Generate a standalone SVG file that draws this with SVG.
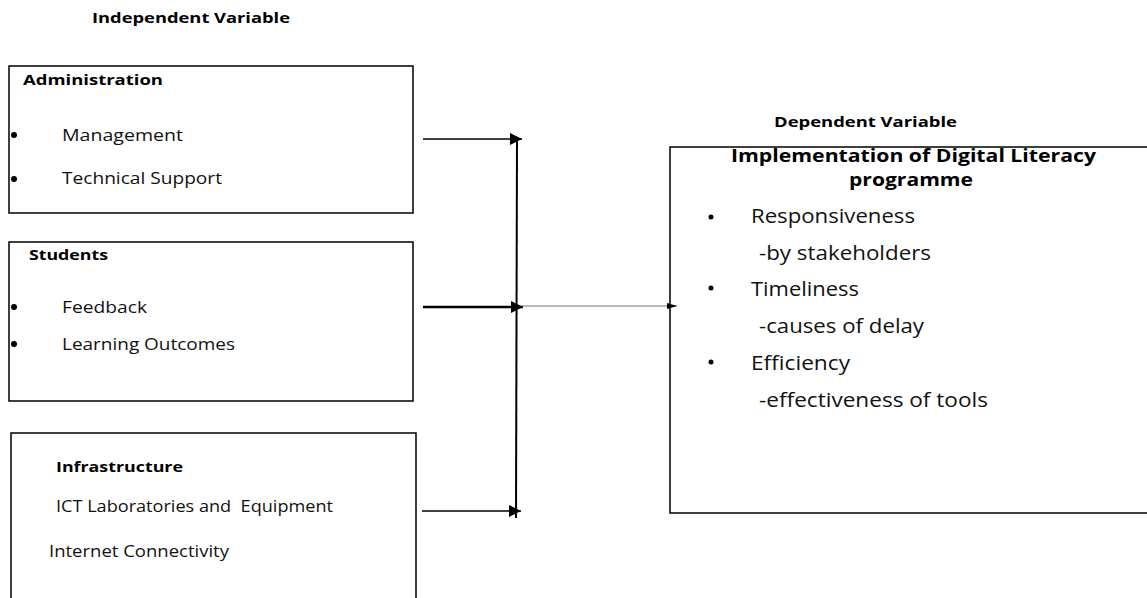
<svg xmlns="http://www.w3.org/2000/svg" width="1147" height="598" viewBox="0 0 1147 598">
<style>
  .box{fill:#fff;stroke:#000;stroke-width:1.5}
  .h{font-family:"Open Sans","Liberation Sans",sans-serif;font-weight:bold;fill:#000}
  .t{font-family:"Open Sans","Liberation Sans",sans-serif;fill:#111;white-space:pre}
  .ln{stroke:#000;fill:none}
</style>
<defs>
  <marker id="ah" viewBox="0 0 12 12" refX="12" refY="6" markerWidth="12" markerHeight="12" markerUnits="userSpaceOnUse" orient="auto">
    <path d="M0,0 L12,6 L0,12 Z" fill="#000"/>
  </marker>
  <marker id="ahs" viewBox="0 0 10 6" refX="10" refY="3" markerWidth="10" markerHeight="6" markerUnits="userSpaceOnUse" orient="auto">
    <path d="M0,0 L10,3 L0,6 Z" fill="#000"/>
  </marker>
</defs>
<rect width="1147" height="598" fill="#fff"/>
<text class="h" x="92" y="23" font-size="14" textLength="198" lengthAdjust="spacingAndGlyphs">Independent Variable</text>
<text class="h" x="774" y="127" font-size="14" textLength="183" lengthAdjust="spacingAndGlyphs">Dependent Variable</text>

<g id="administration">
  <rect class="box" x="9" y="66" width="404" height="147"/>
  <text class="h" x="23" y="85" font-size="15" textLength="140" lengthAdjust="spacingAndGlyphs">Administration</text>
  <circle cx="14" cy="135" r="3"/>
  <circle cx="14" cy="179" r="3"/>
  <text class="t" x="62" y="141" font-size="17" textLength="121" lengthAdjust="spacingAndGlyphs">Management</text>
  <text class="t" x="62" y="184" font-size="17" textLength="160" lengthAdjust="spacingAndGlyphs">Technical Support</text>
</g>

<g id="students">
  <rect class="box" x="9" y="242" width="404" height="159"/>
  <text class="h" x="29" y="260" font-size="15" textLength="79" lengthAdjust="spacingAndGlyphs">Students</text>
  <circle cx="14" cy="307" r="3"/>
  <circle cx="14" cy="344" r="3"/>
  <text class="t" x="62" y="313" font-size="17" textLength="85" lengthAdjust="spacingAndGlyphs">Feedback</text>
  <text class="t" x="62" y="350" font-size="17" textLength="173" lengthAdjust="spacingAndGlyphs">Learning Outcomes</text>
</g>

<g id="infrastructure">
  <rect class="box" x="11" y="433" width="405" height="175"/>
  <text class="h" x="56" y="472" font-size="15" textLength="127" lengthAdjust="spacingAndGlyphs">Infrastructure</text>
  <text class="t" x="56" y="512" font-size="17" textLength="277" lengthAdjust="spacingAndGlyphs" xml:space="preserve">ICT Laboratories and  Equipment</text>
  <text class="t" x="49" y="557" font-size="17" textLength="180" lengthAdjust="spacingAndGlyphs">Internet Connectivity</text>
</g>

<g id="implementation">
  <rect class="box" x="670" y="147" width="490" height="366"/>
  <text class="h" x="731" y="162" font-size="18" textLength="365" lengthAdjust="spacingAndGlyphs">Implementation of Digital Literacy</text>
  <text class="h" x="849" y="186" font-size="18" textLength="124" lengthAdjust="spacingAndGlyphs">programme</text>
  <circle cx="711" cy="217" r="2.5"/>
  <circle cx="711" cy="288" r="2.5"/>
  <circle cx="711" cy="362" r="2.5"/>
  <text class="t" x="751" y="223" font-size="20" textLength="164" lengthAdjust="spacingAndGlyphs">Responsiveness</text>
  <text class="t" x="759" y="260" font-size="20" textLength="172" lengthAdjust="spacingAndGlyphs">-by stakeholders</text>
  <text class="t" x="751" y="296" font-size="20" textLength="108" lengthAdjust="spacingAndGlyphs">Timeliness</text>
  <text class="t" x="759" y="333" font-size="20" textLength="165" lengthAdjust="spacingAndGlyphs">-causes of delay</text>
  <text class="t" x="751" y="370" font-size="20" textLength="99" lengthAdjust="spacingAndGlyphs">Efficiency</text>
  <text class="t" x="759" y="407" font-size="20" textLength="229" lengthAdjust="spacingAndGlyphs">-effectiveness of tools</text>
</g>

<g id="connectors">
  <line class="ln" x1="517" y1="137" x2="516" y2="518" stroke-width="2"/>
  <line class="ln" x1="423" y1="139" x2="522" y2="139" stroke-width="1.5" marker-end="url(#ah)"/>
  <line class="ln" x1="423" y1="307" x2="523" y2="307" stroke-width="2.5" marker-end="url(#ah)"/>
  <line class="ln" x1="422" y1="511" x2="521" y2="511" stroke-width="1.5" marker-end="url(#ah)"/>
  <line x1="522" y1="306" x2="677" y2="306" stroke="#777" stroke-width="1.2" marker-end="url(#ahs)"/>
</g>
</svg>
